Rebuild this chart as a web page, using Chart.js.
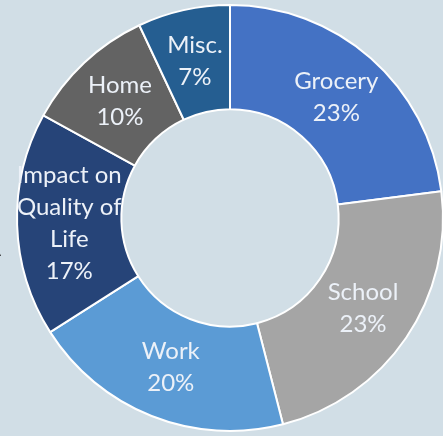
<!DOCTYPE html>
<html>
<head>
<meta charset="utf-8">
<script src="https://cdn.jsdelivr.net/npm/chart.js@4/dist/chart.umd.min.js"></script>
<style>
  html, body { margin: 0; padding: 0; width: 443px; height: 436px; overflow: hidden; background: #D1DEE6; }
  #wrap { position: relative; width: 443px; height: 436px; overflow: hidden; }
  canvas { position: absolute; left: 0; top: 0; }
  #frag { position: absolute; left: -9px; top: 242px; font: 15px "Liberation Sans", sans-serif; color: #222; }
</style>
</head>
<body>
<div id="wrap">
  <canvas id="c" width="460" height="436"></canvas>
  <div id="frag">A</div>
</div>
<script>
const categories = ["Grocery", "School", "Work", "Impact on Quality of Life", "Home", "Misc."];
const labelLines = [["Grocery"], ["School"], ["Work"], ["Impact on", "Quality of", "Life"], ["Home"], ["Misc."]];
const values = [23, 23, 20, 17, 10, 7];
const colors = ["#4472C4", "#A5A5A5", "#5B9BD5", "#264478", "#636363", "#255E91"];

const labelPlugin = {
  id: 'sliceLabels',
  afterDatasetsDraw(chart) {
    const ctx = chart.ctx;
    const meta = chart.getDatasetMeta(0);
    const total = values.reduce((a, b) => a + b, 0);
    ctx.save();
    ctx.font = '24px Lato, "Open Sans", sans-serif';
    ctx.fillStyle = '#ECF1F8';
    ctx.textAlign = 'center';
    ctx.textBaseline = 'middle';
    const lh = 32;
    meta.data.forEach((arc, i) => {
      const p = arc.tooltipPosition();
      const lines = labelLines[i].concat([Math.round(values[i] / total * 100) + '%']);
      const startY = p.y - (lines.length - 1) * lh / 2;
      lines.forEach((t, k) => ctx.fillText(t, p.x, startY + k * lh));
    });
    ctx.restore();
  }
};

new Chart(document.getElementById('c'), {
  type: 'doughnut',
  data: {
    labels: categories,
    datasets: [{
      data: values,
      backgroundColor: colors,
      borderColor: '#FFFFFF',
      borderWidth: 2
    }]
  },
  options: {
    responsive: false,
    animation: false,
    cutout: '51%',
    layout: { padding: { left: 16, right: 16, top: 4, bottom: 4 } },
    plugins: { legend: { display: false }, tooltip: { enabled: false } }
  },
  plugins: [labelPlugin]
});
</script>
</body>
</html>
